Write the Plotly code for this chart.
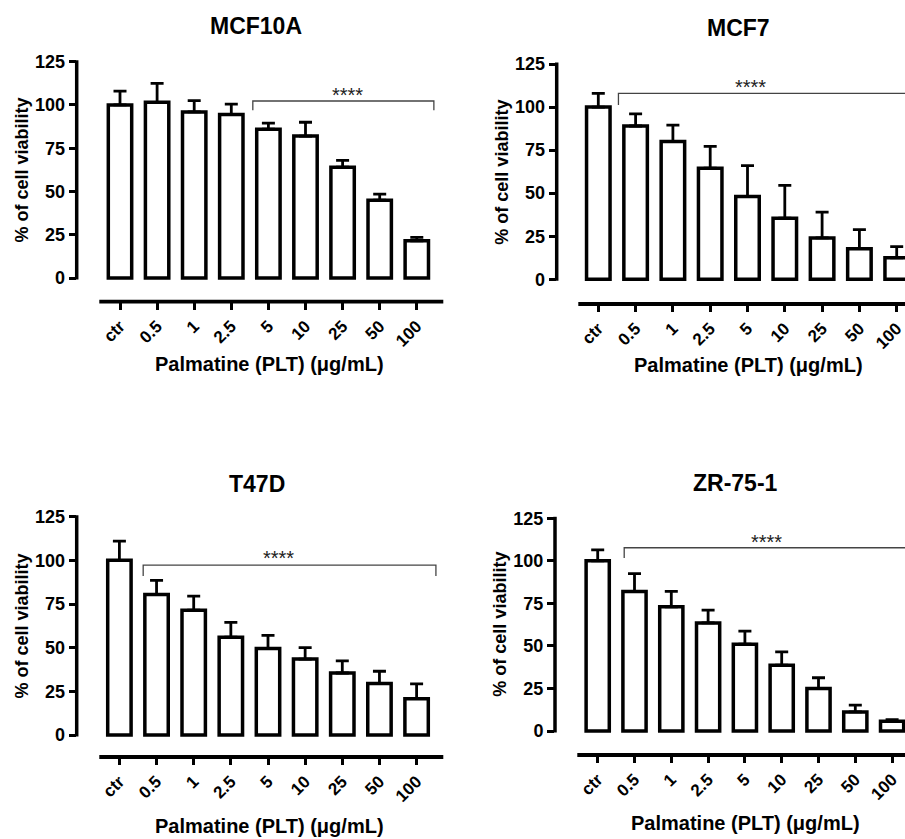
import plotly.graph_objects as go

W, H = 905, 839

# ---------------- data ----------------
categories = ["ctr", "0.5", "1", "2.5", "5", "10", "25", "50", "100"]
titles = ["MCF10A", "MCF7", "T47D", "ZR-75-1"]

mcf10a_mean = [100, 101.5, 96, 94.5, 86, 82, 64, 45, 21.5]
mcf10a_sd = [8, 11, 6.5, 6, 3.5, 8, 4, 3.5, 2]

mcf7_mean = [100, 89, 80, 64.5, 48, 35.5, 24, 17.8, 12.5]
mcf7_sd = [8, 7, 9.5, 12.7, 18, 19, 15, 11, 6.5]

t47d_mean = [100, 80.5, 71.5, 56, 49.5, 43.5, 35.5, 29.5, 20.8]
t47d_sd = [11, 8, 8, 8.5, 7.5, 6.5, 7, 7, 8.5]

zr751_mean = [100, 82, 73, 63.5, 51, 38.7, 25, 11.2, 5.7]
zr751_sd = [6.5, 10.5, 9, 7.5, 7.7, 7.8, 6.3, 4, 1]

y_ticks = [0, 25, 50, 75, 100, 125]
sig_label = "****"
x_title = "Palmatine (PLT) (μg/mL)"
y_title = "% of cell viability"

means = [mcf10a_mean, mcf7_mean, t47d_mean, zr751_mean]
sds = [mcf10a_sd, mcf7_sd, t47d_sd, zr751_sd]

# significance brackets: (x start, x end, y of bar, y of tips, star x, star y)
brackets = [
    (3.58, 8.46, 102.3, 96.9, 6.12, 108.6),
    (0.54, 8.6, 108.0, 101.2, 4.07, 114.7),
    (0.64, 8.52, 97.3, 91.0, 4.27, 104.2),
    (0.72, 8.6, 107.7, 101.7, 4.59, 114.2),
]

# ---------------- layout geometry (pixels) ----------------
panels = [
    dict(yax=76.7, xend=438.3, c0=120.0, pitch=37.1, y0=278.0, y125=61.7, xline=301.7, xstart=99.3,
         title=(256, 25.8), ytx=21.7, xtitle=(269.5, 364)),
    dict(yax=556.7, xend=905.0, c0=598.3, pitch=37.3, y0=279.3, y125=64.0, xline=304.0, xstart=578.3,
         title=(738, 27.5), ytx=502.0, xtitle=(748, 365)),
    dict(yax=76.7, xend=438.3, c0=119.4, pitch=37.15, y0=735.0, y125=516.7, xline=757.0, xstart=99.3,
         title=(257, 484), ytx=21.7, xtitle=(269.5, 826)),
    dict(yax=555.0, xend=905.0, c0=597.7, pitch=36.8, y0=731.0, y125=518.3, xline=755.0, xstart=577.3,
         title=(735, 483), ytx=500.0, xtitle=(745, 823.3)),
]

FONT = "Liberation Sans, Arial, Helvetica, sans-serif"

def px(x):
    return x / W

def py(y):
    return 1 - y / H

fig = go.Figure()
shapes = []
annotations = []
layout = dict(
    width=W, height=H, margin=dict(l=0, r=0, t=0, b=0),
    paper_bgcolor="white", plot_bgcolor="white", showlegend=False,
    font=dict(family=FONT, color="black"),
)

for i, p in enumerate(panels):
    k = "" if i == 0 else str(i + 1)
    xa, ya = "x" + k, "y" + k
    scale = (p["y0"] - p["y125"]) / 125.0
    ytop_px = p["y125"] - 12
    ymin = -(p["xline"] - p["y0"]) / scale
    ymax = (p["y0"] - ytop_px) / scale
    xmin = (p["yax"] - p["c0"]) / p["pitch"]
    xmax = (p["xend"] - p["c0"]) / p["pitch"]

    fig.add_trace(go.Bar(
        x=list(range(len(categories))), y=means[i], width=0.63,
        marker=dict(color="white", line=dict(color="black", width=3.5)),
        error_y=dict(type="data", array=sds[i], arrayminus=[0] * len(categories),
                     symmetric=False, color="black", thickness=2.8, width=6.5),
        xaxis=xa, yaxis=ya, hoverinfo="skip",
    ))

    layout["xaxis" + k] = dict(
        domain=[px(p["yax"]), px(p["xend"])], range=[xmin, xmax], anchor=ya,
        tickmode="array", tickvals=list(range(len(categories))), ticktext=categories,
        tickangle=-45, ticks="outside", ticklen=7, tickwidth=3, tickcolor="black",
        ticklabeloverflow="allow",
        showline=False, showgrid=False, zeroline=False,
        tickfont=dict(family=FONT, size=17, weight="bold", color="black"),
    )
    layout["yaxis" + k] = dict(
        domain=[py(p["xline"]), py(ytop_px)], range=[ymin, ymax], anchor=xa,
        tickmode="array", tickvals=y_ticks, ticks="outside", ticklen=7, tickwidth=3,
        tickcolor="black", showline=False, showgrid=False, zeroline=False,
        tickfont=dict(family=FONT, size=18, weight="bold", color="black"),
    )

    # y axis line (0..125) and offset x axis line
    yline_bottom = p["y0"] + 1.5
    yline_top = p["y0"] - y_ticks[-1] * scale - 1.5
    shapes.append(dict(type="line", xref="paper", yref="paper",
                       x0=px(p["yax"]), x1=px(p["yax"]), y0=py(yline_bottom), y1=py(yline_top),
                       line=dict(color="black", width=3.5)))
    shapes.append(dict(type="line", xref="paper", yref="paper",
                       x0=px(p["xstart"]), x1=px(p["xend"] + 5), y0=py(p["xline"]), y1=py(p["xline"]),
                       line=dict(color="black", width=3.8)))

    # significance bracket
    bx0, bx1, by, btip, sx, sy = brackets[i]
    shapes.append(dict(type="path", xref=xa, yref=ya,
                       path=f"M {bx0} {btip} L {bx0} {by} L {bx1} {by} L {bx1} {btip}",
                       line=dict(color="#444444", width=1.3)))
    annotations.append(dict(x=sx, y=sy, xref=xa, yref=ya, text=sig_label, showarrow=False,
                            yshift=-5, font=dict(family=FONT, size=20, color="#222222")))

    # titles
    tx, ty = p["title"]
    annotations.append(dict(x=px(tx), y=py(ty), xref="paper", yref="paper", text=titles[i],
                            showarrow=False, xanchor="center", yanchor="middle",
                            font=dict(family=FONT, size=23, weight="bold", color="black")))
    xtx, xty = p["xtitle"]
    annotations.append(dict(x=px(xtx), y=py(xty), xref="paper", yref="paper", text=x_title,
                            showarrow=False, xanchor="center", yanchor="middle",
                            font=dict(family=FONT, size=20, weight="bold", color="black")))
    annotations.append(dict(x=px(p["ytx"]), y=py((p["y0"] + p["y125"]) / 2), xref="paper", yref="paper",
                            text=y_title, textangle=-90, showarrow=False,
                            xanchor="center", yanchor="middle",
                            font=dict(family=FONT, size=18, weight="bold", color="black")))

layout["shapes"] = shapes
layout["annotations"] = annotations
fig.update_layout(**layout)
fig.write_html("out.html")
